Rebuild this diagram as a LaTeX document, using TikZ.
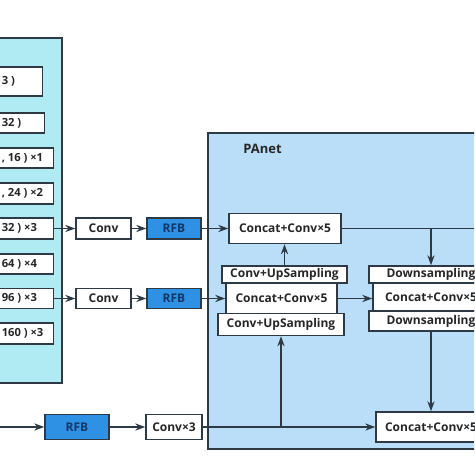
\documentclass[tikz,border=0pt]{standalone}
\usepackage{fontspec}
\setmainfont{Open Sans}
\usetikzlibrary{arrows.meta}
\definecolor{backcyan}{RGB}{176,234,242}
\definecolor{panetblue}{RGB}{187,222,248}
\definecolor{rfbblue}{RGB}{46,145,228}
\definecolor{edgegray}{RGB}{45,58,70}
\definecolor{rfbtext}{RGB}{20,55,105}
\begin{document}
\begin{tikzpicture}[x=0.5pt,y=-0.5pt,
        font=\fontsize{6}{7}\selectfont\bfseries,
        color=edgegray, text=black!85, line width=0.75pt,
        block/.style={draw, fill=white, inner sep=0pt},
        rfb/.style={block, fill=rfbblue, text=rfbtext},
        link/.style={-{Stealth[length=5pt,width=3.6pt]}},
        panel/.style={draw, line width=0.8pt}]
    \useasboundingbox (0,0) rectangle (474,474);
    \clip (0,0) rectangle (474,474);

    % Backbone
    \draw[panel, fill=backcyan] (-10,38) rectangle (62,383);
    \foreach \n/\y/\h/\r/\txt in {1/81.5/14.5/43/{3 )},2/123/10/45/{32 )},
        3/158/10/54/{, 16 ) ×1},4/193.5/10.5/54/{, 24 ) ×2},5/228.5/10.5/54/{32 ) ×3},
        6/264/10/54/{64 ) ×4},7/298.5/10/54/{96 ) ×3},8/333.5/10.5/54/{160 ) ×3}}
    {
        \node[block, anchor=east, minimum width=60pt, minimum height=\h pt] (b\n) at (\r,\y) {};
        \node[anchor=west, inner sep=0pt, font=\fontsize{5.6}{7}\selectfont\bfseries] (t\n) at (1,\y) {\txt};
    }

    % PAnet
    \draw[panel, fill=panetblue] (208,133) rectangle (490,449);
    \node[anchor=west, font=\fontsize{6.5}{7}\selectfont\bfseries] (panet) at (236,149) {PAnet};

    \node[block, minimum width=27.5pt, minimum height=10.5pt] (conv1) at (103.5,228.5) {Conv};
    \node[rfb, minimum width=27pt, minimum height=10.5pt] (rfb1) at (174,228.5) {RFB};
    \node[block, minimum width=27.5pt, minimum height=10pt] (conv2) at (103.5,298.5) {Conv};
    \node[rfb, minimum width=27pt, minimum height=10pt] (rfb2) at (174,298.5) {RFB};
    \node[rfb, minimum width=32pt, minimum height=12.5pt] (rfb3) at (77,427) {RFB};
    \node[block, minimum width=28pt, minimum height=12.5pt] (conv3) at (174,427) {Conv×3};

    \node[block, minimum width=56pt, minimum height=15pt] (concat1) at (285,228.5) {Concat+Conv×5};
    \node[block, minimum width=62.5pt, minimum height=8.5pt] (ups1) at (284.5,274.5) {Conv+UpSampling};
    \node[block, minimum width=55.5pt, minimum height=15pt] (concat2) at (281.5,298.5) {Concat+Conv×5};
    \node[block, minimum width=63pt, minimum height=11pt] (ups2) at (281,324.5) {Conv+UpSampling};
    \node[block, minimum width=62pt, minimum height=8.5pt] (down1) at (431,274.5) {Downsampling};
    \node[block, minimum width=58pt, minimum height=14pt] (concat3) at (431,297) {Concat+Conv×5};
    \node[block, minimum width=62pt, minimum height=10pt] (down2) at (431,321) {Downsampling};
    \node[block, minimum width=55pt, minimum height=15pt] (concat4) at (431,427) {Concat+Conv×5};

    \coordinate (in3) at (-5,427);
    \coordinate (out1) at (480,228.5);

    \draw[link] (b5) -- (conv1);
    \draw[link] (conv1) -- (rfb1);
    \draw[link] (rfb1) -- (concat1);
    \draw[link] (b7) -- (conv2);
    \draw[link] (conv2) -- (rfb2);
    \draw[link] (rfb2.east) -- (rfb2.east -| concat2.west);
    \draw[link] (in3) -- (rfb3);
    \draw[link] (rfb3) -- (conv3);
    \draw[link] (conv3) -- (concat4);
    \draw (concat1) -- (out1);
    \draw[link] (down1.north |- concat1.east) -- (down1.north);
    \draw[link] (ups1.north) -- (ups1.north |- concat1.south);
    \draw[link] (concat2.east) -- (concat2.east -| concat3.west);
    \draw[link] (down2.south) -- (concat4.north);
    \draw[link] (ups2.south |- conv3.east) -- (ups2.south);
\end{tikzpicture}
\end{document}
